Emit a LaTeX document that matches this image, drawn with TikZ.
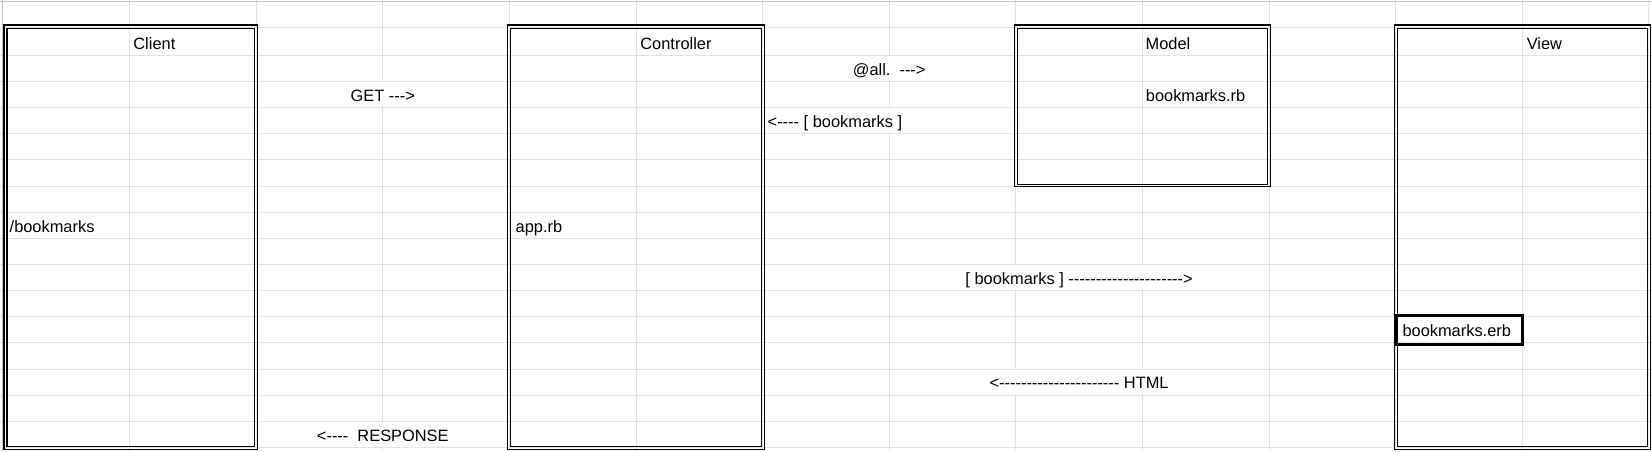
\documentclass[tikz,border=0pt]{standalone}
\usepackage{fontspec}
\newfontfamily\arial{Liberation Sans}
\definecolor{gridgray}{HTML}{E2E2E2}
\definecolor{edgegray}{HTML}{C4C4C4}
\tikzset{
  gridline/.style={draw=gridgray, line width=1pt},
  edgeline/.style={draw=edgegray, line width=1.2pt},
  boxline/.style={draw=black, line width=1.1pt},
  cell/.style={font=\arial\fontsize{16.4}{19}\selectfont, inner sep=0pt, text=black},
  over/.style={cell, fill=white, text height=18.5pt, text depth=4.5pt, inner ysep=0.5pt},
  thickbox/.style={draw=black, line width=3pt}
}
\newcommand{\dblbox}[4]{%
  \draw[boxline] (#1-1.5,#2-2.3) rectangle (#3+1.5,#4+1.5);
  \draw[boxline] (#1+1.5,#2+1) rectangle (#3-1.5,#4-1.2);
}
\begin{document}
\begin{tikzpicture}[x=1pt,y=-1pt]
\useasboundingbox (0,0) rectangle (1652,451);
\fill[white] (0,0) rectangle (1652,451);
% grid
\foreach \k in {1,...,13} { \draw[gridline] ({3+126.6*\k},0) -- ({3+126.6*\k},451); }
\draw[gridline] (0,27.3) -- (1652,27.3);
\foreach \j in {0,...,15} { \draw[gridline] (0,{55.3+26.15*\j}) -- (1652,{55.3+26.15*\j}); }
\draw[edgeline] (0,1.2) -- (1652,1.2);
\draw[edgeline] (2.7,0) -- (2.7,451);
% boxes
\dblbox{5.5}{27.3}{256.2}{447.6}
\dblbox{509.4}{27.3}{762.6}{447.6}
\dblbox{1015.8}{27.3}{1269}{185.3}
\dblbox{1395.6}{27.3}{1648.8}{447.6}
% row bottoms B_j = 55.3 + 26.15 j ; baseline = B_j - 6.3
\node[cell, anchor=base west] (client) at (133.2,49.0) {Client};
\node[cell, anchor=base west] (controller) at (640.2,49.0) {Controller};
\node[cell, anchor=base west] (model) at (1145.5,49.0) {Model};
\node[cell, anchor=base west] (view) at (1526.6,49.0) {View};
\node[cell, anchor=base west] (modelfile) at (1145.7,101.3) {bookmarks.rb};
\node[over, anchor=base] (get) at (382.8,101.3) {GET --->};
\node[over, anchor=base] (all) at (889.2,75.15) {@all.\ \ --->};
\node[over, anchor=base west] (ret) at (767.5,127.45) {<---- [ bookmarks ]};
\node[cell, anchor=base west] (route) at (9.5,232.05) {/bookmarks};
\node[cell, anchor=base west] (app) at (515.5,232.05) {app.rb};
\node[over, anchor=base] (toview) at (1079.1,284.35) {[ bookmarks ] --------------------->};
\node[over, anchor=base] (html) at (1079.1,388.95) {<---------------------- HTML};
\node[over, anchor=base] (resp) at (382.8,441.25) {<----\ \ RESPONSE};
% view template cell with thick border
\draw[thickbox] (1396.6,315) rectangle (1522.6,344.2);
\node[cell, anchor=base west] (erb) at (1402.3,336.3) {bookmarks.erb};
\end{tikzpicture}
\end{document}
